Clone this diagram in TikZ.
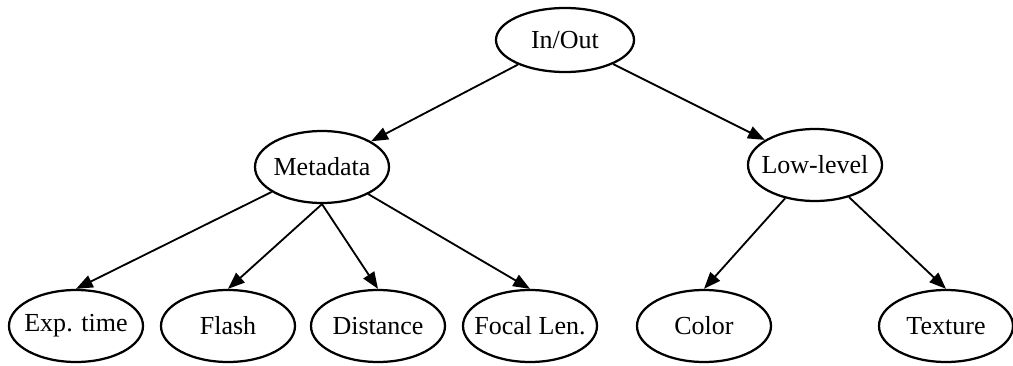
\documentclass[tikz,border=0pt]{standalone}
\usepackage{fontspec}
\setmainfont{Liberation Serif}
\usetikzlibrary{shapes.geometric, arrows.meta, positioning}

\begin{document}
\begin{tikzpicture}[
    item/.style={
        ellipse,
        draw=black,
        line width=1.6pt,
        minimum width=3.35cm,
        minimum height=1.8cm,
        inner sep=0pt,
        inner xsep=-5mm,
        align=center,
        font=\rmfamily\fontsize{18.5}{21}\selectfont
    },
    arrow/.style={
        line width=1.3pt,
        -{Triangle[length=4.2mm, width=3.2mm]},
        draw=black
    }
]
    \useasboundingbox (0,0) rectangle (25.325,-9.125);

    % Nodes
    \node [item, minimum width=3.45cm, minimum height=1.6cm] (inout) at (14.125,-1.0) {In/Out};
    \node [item] (meta) at (8.05,-4.175) {Metadata};
    \node [item] (low) at (20.375,-4.125) {Low-level};

    \node [item] (exptime) at (1.9,-8.15) {Exp. time};
    \node [item] (flash) at (5.7,-8.15) {Flash};
    \node [item] (distance) at (9.45,-8.15) {Distance};
    \node [item] (focal) at (13.25,-8.15) {Focal Len.};
    \node [item] (color) at (17.6,-8.15) {Color};
    \node [item] (texture) at (23.65,-8.15) {Texture};

    % Arrows
    \draw [arrow] (inout) -- (meta);
    \draw [arrow] (inout) -- (low);
    \draw [arrow] (meta) -- (exptime.north);
    \draw [arrow] (meta.south) -- (flash.north);
    \draw [arrow] (meta.south) -- (distance.north);
    \draw [arrow] (meta) -- (focal.north);
    \draw [arrow] (low) -- (color.north);
    \draw [arrow] (low) -- (texture.north);
\end{tikzpicture}
\end{document}
